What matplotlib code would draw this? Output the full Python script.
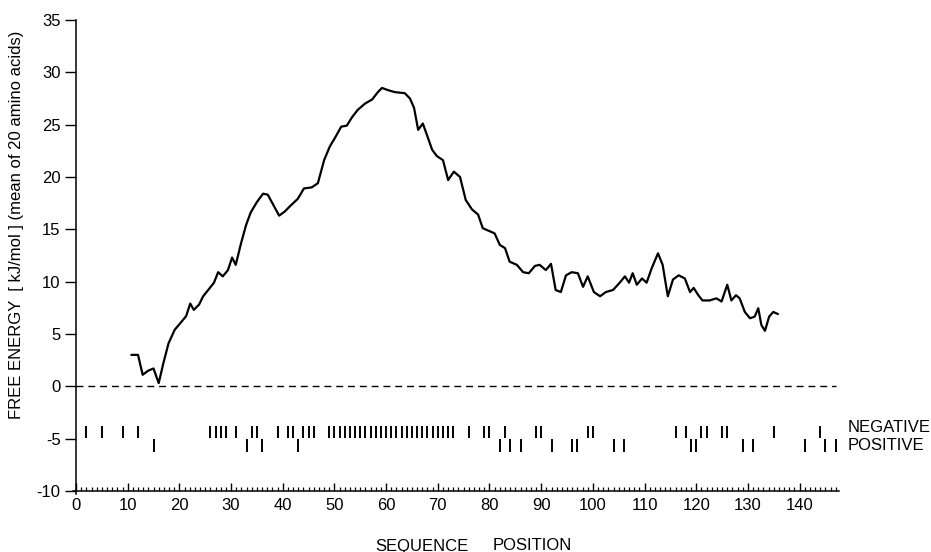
import matplotlib
matplotlib.use("Agg")
import matplotlib.pyplot as plt
from matplotlib.ticker import MultipleLocator, FixedLocator

# ---- data ----
seq_pos = [10.7, 12.0, 12.9, 14.0, 15.0, 16.0, 16.9, 17.9, 19.1, 20.3,
           21.3, 22.1, 22.8, 23.8, 24.6, 25.9, 26.7, 27.5, 28.4, 29.4,
           30.2, 30.9, 31.9, 32.9, 33.8, 35.0, 36.2, 37.1, 38.1, 39.3,
           40.4, 41.6, 42.9, 44.1, 45.6, 46.8, 48.0, 49.1, 50.3, 51.3,
           52.4, 53.4, 54.5, 55.9, 57.3, 58.4, 59.2, 60.3, 61.7, 63.6,
           64.6, 65.4, 66.2, 67.1, 67.9, 68.9, 69.8, 71.0, 72.0, 73.1,
           74.3, 75.4, 76.6, 77.8, 78.7, 80.1, 81.0, 82.0, 83.0, 83.9,
           85.3, 86.5, 87.6, 88.8, 89.7, 90.9, 91.9, 92.8, 93.8, 94.8,
           95.9, 97.1, 98.1, 99.0, 100.2, 101.4, 102.5, 103.9, 105.2, 106.2,
           107.0, 107.7, 108.5, 109.5, 110.4, 111.4, 112.6, 113.5, 114.5, 115.5,
           116.6, 117.8, 118.8, 119.5, 120.4, 121.2, 122.6, 123.9, 124.9, 126.0,
           126.8, 127.7, 128.4, 129.4, 130.4, 131.3, 132.0, 132.6, 133.3, 134.1,
           134.9, 135.8]
free_energy = [3.0, 3.0, 1.1, 1.5, 1.7, 0.3, 2.2, 4.1, 5.4, 6.1,
               6.7, 7.9, 7.3, 7.8, 8.6, 9.4, 9.9, 10.9, 10.5, 11.1,
               12.3, 11.6, 13.6, 15.4, 16.6, 17.6, 18.4, 18.3, 17.4, 16.3,
               16.7, 17.3, 17.9, 18.9, 19.0, 19.4, 21.6, 22.9, 23.9, 24.8,
               24.9, 25.7, 26.4, 27.0, 27.4, 28.1, 28.5, 28.3, 28.1, 28.0,
               27.5, 26.6, 24.5, 25.1, 24.0, 22.6, 22.0, 21.6, 19.7, 20.5,
               20.0, 17.8, 16.9, 16.4, 15.1, 14.8, 14.6, 13.5, 13.2, 11.9,
               11.6, 10.9, 10.8, 11.5, 11.6, 11.1, 11.7, 9.2, 9.0, 10.6,
               10.9, 10.8, 9.5, 10.5, 9.0, 8.6, 9.0, 9.2, 9.9, 10.5,
               9.9, 10.8, 9.7, 10.3, 9.9, 11.3, 12.7, 11.6, 8.6, 10.2,
               10.6, 10.3, 9.0, 9.4, 8.7, 8.2, 8.2, 8.4, 8.1, 9.7,
               8.2, 8.7, 8.4, 7.1, 6.5, 6.65, 7.45, 5.85, 5.3, 6.65,
               7.1, 6.9]

negative_res = [2, 5, 9, 12, 26, 27, 28, 29, 31, 34, 35, 39, 41, 42, 44, 45, 46,
                49, 50, 51, 52, 53, 54, 55, 56, 57, 58, 59, 60, 61, 62, 63, 64,
                65, 66, 67, 68, 69, 70, 71, 72, 73,
                76, 79, 80, 83, 89, 90, 99, 100, 116, 118, 121, 122, 125, 126,
                135, 144]
positive_res = [15, 33, 36, 43, 82, 84, 86, 92, 96, 97, 104, 106, 119, 120,
                129, 131, 141, 145, 147]

x_major = [0, 10, 20, 30, 40, 50, 60, 70, 80, 90, 100, 110, 120, 130, 140]
y_major = [-10, -5, 0, 5, 10, 15, 20, 25, 30, 35]

ylabel = "FREE ENERGY  [ kJ/mol ] (mean of 20 amino acids)"
xlabel_words = ["SEQUENCE", "POSITION"]
row_labels = ["NEGATIVE", "POSITIVE"]

# ---- figure ----
plt.rcParams['font.family'] = ['Liberation Sans Narrow', 'Liberation Sans', 'DejaVu Sans']

W, H = 931, 552
fig = plt.figure(figsize=(W / 100, H / 100), dpi=100)
ax = fig.add_axes([72.9 / W, (H - 494.1) / H, 766 / W, 474.2 / H])
ax.set_xlim(-0.6, 147.6)
ax.set_ylim(-10.3, 35)

lw_sp = 1.1
for s in ['top', 'right']:
    ax.spines[s].set_visible(False)
ax.spines['left'].set_position(('data', 0))
ax.spines['bottom'].set_position(('data', -10))
ax.spines['left'].set_linewidth(lw_sp)
ax.spines['bottom'].set_linewidth(lw_sp)
ax.spines['left'].set_bounds(-10.3, 35)

# curve
ax.plot(seq_pos, free_energy, color='black', lw=1.6, solid_joinstyle='round',
        solid_capstyle='round')

# zero dashed line
ax.plot([0, 147], [0, 0], color='black', lw=1.0, dashes=(5, 3.5))

# charge marks
ax.vlines(negative_res, -3.75, -4.9, color='black', lw=1.4)
ax.vlines(positive_res, -5.05, -6.25, color='black', lw=1.4)

ax.text(149.3, -3.95, row_labels[0], fontsize=12, family=['Liberation Sans', 'DejaVu Sans'],
        ha='left', va='center', clip_on=False)
ax.text(149.3, -5.65, row_labels[1], fontsize=12, family=['Liberation Sans', 'DejaVu Sans'],
        ha='left', va='center', clip_on=False)

# ticks
ax.xaxis.set_major_locator(FixedLocator(x_major))
ax.xaxis.set_minor_locator(MultipleLocator(1))
ax.yaxis.set_major_locator(FixedLocator(y_major))
ax.tick_params(axis='x', which='major', direction='in', length=6, width=1.0,
               pad=5, labelsize=12)
ax.tick_params(axis='x', which='minor', direction='in', length=3, width=0.9)
ax.tick_params(axis='y', which='major', direction='out', length=8, width=1.0,
               pad=3, labelsize=12)
ax.set_xticklabels([str(v) for v in x_major])
ax.set_yticklabels([str(v) for v in y_major])

# labels
fig.text(17 / W, 1 - 225 / H, ylabel, rotation=90, ha='center', va='center', fontsize=12)
fig.text(422 / W, 1 - 546 / H, xlabel_words[0], ha='center', va='center', fontsize=12)
fig.text(532 / W, 1 - 546 / H, xlabel_words[1], ha='center', va='center', fontsize=12)

fig.savefig("out.png", dpi=100)
